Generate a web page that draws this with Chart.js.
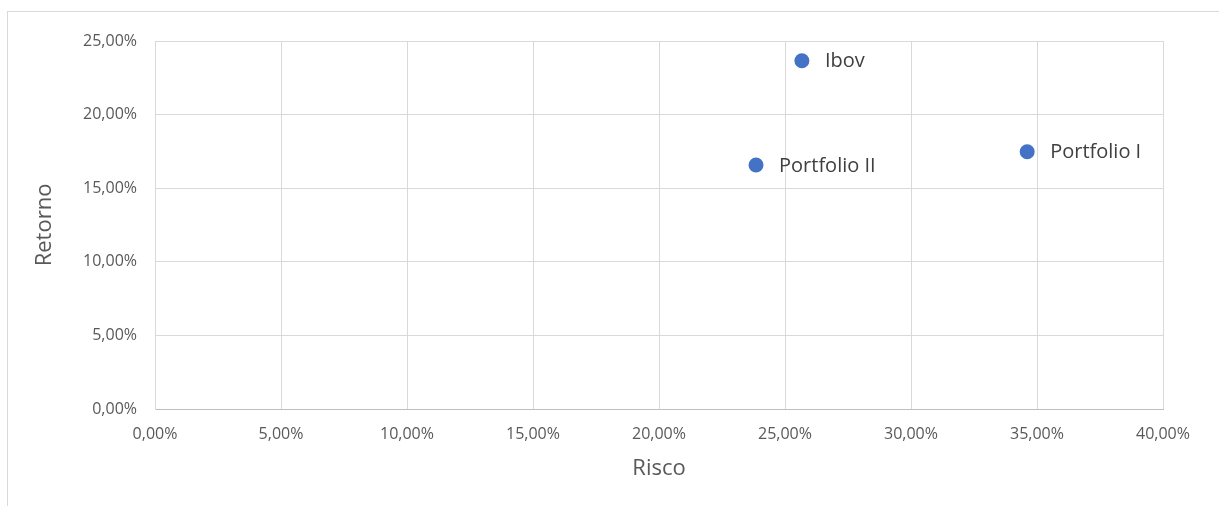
<!DOCTYPE html>
<html>
<head>
<meta charset="utf-8">
<script src="https://cdn.jsdelivr.net/npm/chart.js@4.4.1/dist/chart.umd.min.js"></script>
<style>
  html, body { margin: 0; padding: 0; background: #ffffff; }
  #wrap { position: relative; width: 1219px; height: 506px; overflow: hidden; }
  #frame { position: absolute; left: 7px; top: 11px; width: 1300px; height: 600px;
           border-left: 1px solid #d9d9d9; border-top: 1px solid #d9d9d9; box-sizing: border-box; }
  canvas { position: absolute; left: 0; top: 0; }
</style>
</head>
<body>
<div id="wrap">
  <div id="frame"></div>
  <canvas id="c" width="1219" height="506"></canvas>
</div>
<script>
// Risk / return of each portfolio, in percent
const names   = ['Ibov', 'Portfolio II', 'Portfolio I'];
const risco   = [25.67, 23.85, 34.61];
const retorno = [23.66, 16.58, 17.48];

const xMax = 40, xStep = 5;
const yMax = 25, yStep = 5;

const FONT = "'Open Sans', 'Noto Sans', sans-serif";
const pct = v => Number(v).toFixed(2).replace('.', ',') + '%';

// Writes each point's name to the right of its marker
const pointNames = {
  id: 'pointNames',
  afterDatasetsDraw(chart) {
    const ctx = chart.ctx;
    const meta = chart.getDatasetMeta(0);
    ctx.save();
    ctx.font = '20px ' + FONT;
    ctx.fillStyle = '#404040';
    ctx.textAlign = 'left';
    ctx.textBaseline = 'middle';
    meta.data.forEach((el, i) => {
      ctx.fillText(names[i], el.x + 23, el.y + 1);
    });
    ctx.restore();
  }
};

new Chart(document.getElementById('c'), {
  type: 'scatter',
  data: {
    datasets: [{
      label: 'Risco x Retorno',
      data: risco.map((x, i) => ({ x: x, y: retorno[i] })),
      backgroundColor: '#4472c4',
      borderColor: '#4472c4',
      pointRadius: 7.5,
      pointHoverRadius: 7.5,
      borderWidth: 0
    }]
  },
  options: {
    responsive: false,
    animation: false,
    events: [],
    layout: { padding: { left: 0, top: 41, right: 56, bottom: 0 } },
    plugins: { legend: { display: false }, tooltip: { enabled: false } },
    scales: {
      x: {
        type: 'linear',
        min: 0, max: xMax,
        afterFit: s => { s.height = 97; },
        ticks: { stepSize: xStep, callback: v => pct(v), color: '#595959',
                 font: { family: FONT, size: 16 }, padding: 16, maxRotation: 0 },
        grid: { color: '#d9d9d9', lineWidth: 1, drawTicks: false },
        border: { color: '#bfbfbf', width: 1 },
        title: { display: true, text: 'Risco', color: '#595959',
                 font: { family: FONT, size: 22 }, padding: { top: 0, bottom: 24 } }
      },
      y: {
        type: 'linear',
        min: 0, max: yMax,
        afterFit: s => { s.width = 155; },
        ticks: { stepSize: yStep, callback: v => pct(v), color: '#595959',
                 font: { family: FONT, size: 16 }, padding: 18 },
        grid: { color: '#d9d9d9', lineWidth: 1, drawTicks: false },
        border: { color: '#d9d9d9', width: 1 },
        title: { display: true, text: 'Retorno', color: '#595959',
                 font: { family: FONT, size: 22 }, padding: { top: 32, bottom: 0 } }
      }
    }
  },
  plugins: [pointNames]
});
</script>
</body>
</html>
